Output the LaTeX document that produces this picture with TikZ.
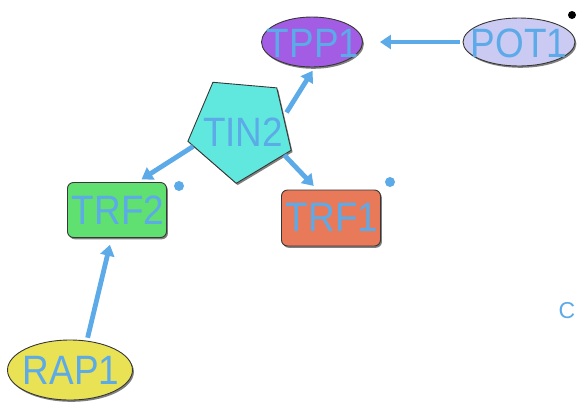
\documentclass[tikz,border=0pt]{standalone}
\usepackage{fontspec}
\setmainfont{Liberation Sans}
\usetikzlibrary{shapes.geometric,arrows.meta,shadows}
\definecolor{txtblue}{RGB}{92,170,232}
\definecolor{tppcol}{RGB}{163,92,228}
\definecolor{potcol}{RGB}{202,202,242}
\definecolor{tincol}{RGB}{96,232,222}
\definecolor{trftwo}{RGB}{96,224,112}
\definecolor{trfone}{RGB}{232,122,90}
\definecolor{rapcol}{RGB}{232,226,84}
\definecolor{edgecol}{RGB}{55,55,55}
\tikzset{
  shapebox/.style={draw=edgecol, line width=0.9pt, inner sep=0pt,
    drop shadow={shadow xshift=1.4pt, shadow yshift=-1.8pt, opacity=0.5, fill=black}},
  ellbox/.style={shapebox, ellipse},
  recbox/.style={shapebox, rectangle, rounded corners=6pt},
  lbl/.style={text=txtblue, inner sep=0pt, font=\fontsize{41}{48}\selectfont},
  arr/.style={draw=txtblue, line width=4.8pt, -{Triangle[length=11pt,width=14pt]}},
  bdot/.style={circle, fill=txtblue, inner sep=0pt, minimum size=10pt}
}
\newcommand{\nar}[1]{\scalebox{0.9}[1]{#1}}
\begin{document}
\begin{tikzpicture}[x=1pt,y=-1pt]
\useasboundingbox (0,0) rectangle (577,405);
% shapes
\node[ellbox, fill=tppcol, minimum width=101pt, minimum height=50pt] (tpp1) at (312,42) {};
\node[ellbox, fill=potcol, minimum width=112pt, minimum height=48pt] (pot1) at (519,42) {};
\node[shapebox, regular polygon, regular polygon sides=5, minimum size=109pt,
      shape border rotate=31, fill=tincol] (tin2) at (241,129) {};
\node[recbox, fill=trftwo, minimum width=99pt, minimum height=55pt] (trf2) at (117,210) {};
\node[recbox, fill=trfone, minimum width=99pt, minimum height=56pt] (trf1) at (331,218) {};
\node[ellbox, fill=rapcol, minimum width=125pt, minimum height=60pt] (rap1) at (70,370) {};
% labels
\node[lbl] (tpp1t) at (313,43) {\nar{TPP1}};
\node[lbl] (pot1t) at (519,43) {\nar{POT1}};
\node[lbl] (tin2t) at (243,132) {\nar{TIN2}};
\node[lbl] (trf2t) at (118,210) {\nar{TRF2}};
\node[lbl] (trf1t) at (332,217) {\nar{TRF1}};
\node[lbl] (rap1t) at (71,370) {\nar{RAP1}};
% connectors
\draw[arr, shorten >=17pt, shorten <=3pt] (pot1.180) -- (tpp1.0);
\draw[arr, shorten >=4pt, shorten <=5pt] (tin2.16) -- (tpp1.-84);
\draw[arr, shorten >=5pt] (tin2.200) -- (trf2.54);
\draw[arr, shorten >=5pt] (tin2.-31) -- (trf1.116);
\draw[arr, shorten >=7pt, shorten <=3pt] (rap1.60) -- (trf2.-101);
% dots and stray text
\node[bdot] (d1) at (179,186) {};
\node[bdot] (d2) at (390,182) {};
\node[circle, fill=black, inner sep=0pt, minimum size=8pt] (d3) at (572,15) {};
\node[text=txtblue, inner sep=0pt, font=\fontsize{23}{28}\selectfont] (cc) at (567,311) {C};
\end{tikzpicture}
\end{document}
